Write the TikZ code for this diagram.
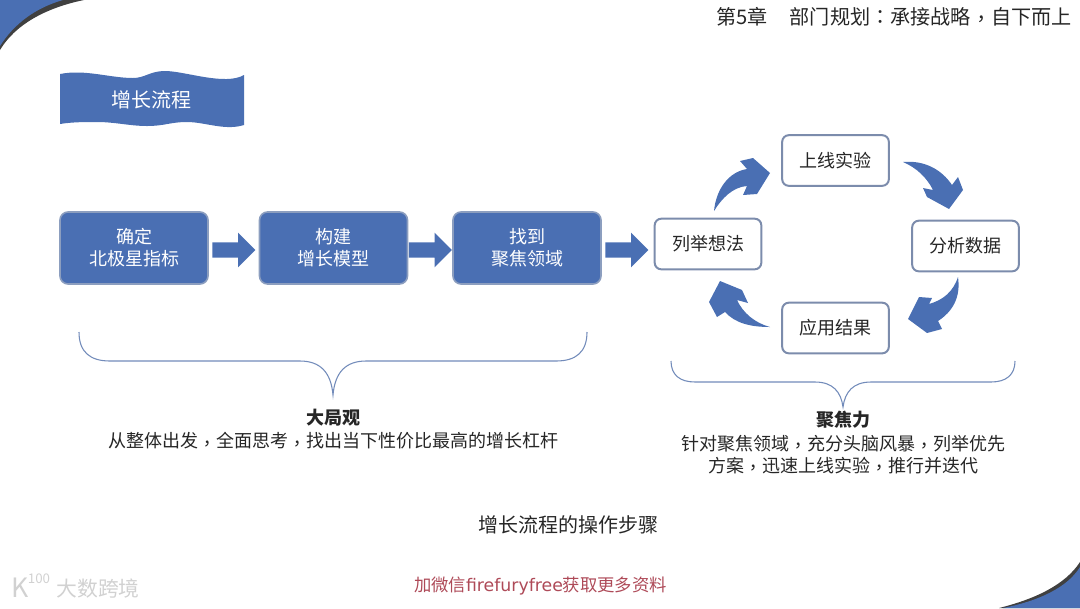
\documentclass[tikz,border=0pt]{standalone}
\usepackage{fontspec}
\setmainfont{Noto Sans CJK SC}
\newfontfamily\tcFont{Noto Sans CJK TC}
\newfontfamily\wideFont{DejaVu Sans}
\usetikzlibrary{shapes.arrows}
\definecolor{flowBlue}{HTML}{4A6FB3}
\definecolor{edgeBlue}{HTML}{8C9EBF}
\definecolor{loopEdge}{HTML}{7C8CAC}
\definecolor{inkDark}{HTML}{262626}
\definecolor{noteRed}{HTML}{AE4A58}
\newcommand{\pxSize}[1]{\fontsize{#1}{#1}\selectfont}
\newcommand{\zhComma}{\raisebox{-2pt}{\tcFont ，}}
\newcommand{\zhColon}{{\tcFont ：}}

\tikzset{
  stepBox/.style={rectangle,rounded corners=6pt,fill=flowBlue,draw=edgeBlue,line width=1.2pt,
    minimum width=111pt,minimum height=54pt,align=center,text=white,font=\pxSize{13.5},inner sep=0pt},
  loopBox/.style={rectangle,rounded corners=5pt,fill=white,draw=loopEdge,line width=1.5pt,
    minimum width=80pt,minimum height=38pt,text=inkDark,font=\pxSize{13.5},inner sep=0pt},
  blockArrow/.style={single arrow,anchor=tail,fill=flowBlue,minimum height=32.25pt,minimum width=25.5pt,
    inner sep=0pt,inner ysep=5.6pt,single arrow head extend=7.15pt,single arrow tip angle=90},
  loopArrow/.style={fill=flowBlue,draw=none},
  braceLine/.style={draw=edgeBlue!60!flowBlue,line width=0.8pt},
  noteText/.style={align=center,text=inkDark,font=\pxSize{13.5},inner sep=0pt},
  markText/.style={text=black!18,inner sep=0pt}
}

\begin{document}
\begin{tikzpicture}[x=0.75pt,y=-0.75pt]
  \useasboundingbox (0,0) rectangle (1080,608);

  % corners
  \fill[black!75] (0,50) .. controls (15,25) and (45,8) .. (84,0) -- (0,0) -- cycle;
  \fill[flowBlue] (0,46) .. controls (14,24) and (35,8) .. (63,0) -- (0,0) -- cycle;
  \fill[black!75] (999,608) .. controls (1035,599) and (1065,585) .. (1080,562) -- (1080,608) -- cycle;
  \fill[flowBlue] (1003,608) .. controls (1038,601) and (1067,588) .. (1080,567) -- (1080,608) -- cycle;

  \node[anchor=east,text=inkDark,font=\pxSize{15.1},inner sep=0pt](chapterTitle) at (1072,17) {第5章\hspace{16.5pt}部门规划\zhColon 承接战略\zhComma 自下而上};

  % banner
  \fill[flowBlue] (60,74) .. controls (85,69) and (110,78) .. (133,78)
    .. controls (145,78) and (150,71) .. (165,71)
    .. controls (185,71) and (225,86) .. (244,75)
    -- (244,125) .. controls (225,131) and (205,122) .. (187,122)
    .. controls (170,122) and (165,126) .. (147,126)
    .. controls (130,126) and (115,122) .. (97,122)
    .. controls (85,122) and (72,122) .. (60,124) -- cycle;
  \node[text=white,font=\pxSize{15},inner sep=0pt](bannerText) at (151,100) {增长流程};

  % steps
  \node[stepBox](northStar) at (134,248) {确定\\[3pt]北极星指标};
  \node[stepBox](growthModel) at (333.5,248) {构建\\[3pt]增长模型};
  \node[stepBox](focusArea) at (527,248) {找到\\[3pt]聚焦领域};
  \node[blockArrow](arrowA) at (212,250) {};
  \node[blockArrow](arrowB) at (408.5,250) {};
  \node[blockArrow](arrowC) at (605,250) {};

  % loop
  \node[loopBox](listIdeas) at (708,244) {列举想法};
  \node[loopBox](goLive) at (835.5,160.5) {上线实验};
  \node[loopBox](analyseData) at (965.5,246) {分析数据};
  \node[loopBox](applyResult) at (835.5,328) {应用结果};

  \fill[loopArrow] (714,211) .. controls (716,190) and (728,172) .. (747,169)
    -- (740,161) -- (753,158) -- (770,173) -- (757,194) -- (743,195) -- (747,186)
    .. controls (733,187) and (722,198) .. (714,211) -- cycle;
  \fill[loopArrow] (903,162) .. controls (925,160) and (942,170) .. (952,185)
    -- (958,177) -- (963,190) -- (949,209) -- (927,197) -- (923,188) -- (933,190)
    .. controls (927,178) and (917,168) .. (903,162) -- cycle;
  \fill[loopArrow] (958,277) .. controls (961,298) and (952,312) .. (938,321)
    -- (942,329) -- (927,333) -- (908,319) -- (919,297) -- (932,298) -- (929,304)
    .. controls (943,300) and (953,292) .. (958,277) -- cycle;
  \fill[loopArrow] (770,327) .. controls (750,327) and (735,323) .. (725,312)
    -- (717,317) -- (709,302) -- (720,281) -- (742,290) -- (748,303) -- (737,300)
    .. controls (743,313) and (755,323) .. (770,327) -- cycle;

  % braces
  \draw[braceLine] (79,332) .. controls (79,352) and (90,361) .. (110,361) -- (300,361)
    .. controls (320,361) and (331,372) .. (333,395)
    .. controls (335,372) and (346,361) .. (366,361) -- (556,361)
    .. controls (576,361) and (587,352) .. (587,332);
  \draw[braceLine] (671,361) .. controls (671,375) and (680,382) .. (695,382) -- (815,382)
    .. controls (833,382) and (841,392) .. (843,407)
    .. controls (845,392) and (853,382) .. (871,382) -- (991,382)
    .. controls (1006,382) and (1015,375) .. (1015,361);

  \node[noteText,font=\pxSize{13.5}\bfseries](bigPicture) at (333,418) {大局观};
  \node[noteText](bigPictureNote) at (333,441) {从整体出发\zhComma 全面思考\zhComma 找出当下性价比最高的增长杠杆};
  \node[noteText,font=\pxSize{13.5}\bfseries](focusPower) at (843,420) {聚焦力};
  \node[noteText](focusPowerNote) at (843,455) {针对聚焦领域\zhComma 充分头脑风暴\zhComma 列举优先\\[3pt]方案\zhComma 迅速上线实验\zhComma 推行并迭代};

  \node[noteText,font=\pxSize{15}](captionText) at (568,525) {增长流程的操作步骤};
  \node[text=noteRed,font=\pxSize{13},inner sep=0pt](contactText) at (540.5,586) {加微信{\wideFont firefuryfree}获取更多资料};

  % watermark
  \node[markText,font=\pxSize{20}](logoK) at (20,588) {K};
  \node[markText,font=\pxSize{10}](logoNum) at (39,579) {100};
  \node[markText,font=\pxSize{15.6}](markText) at (98,589) {大数跨境};
\end{tikzpicture}
\end{document}
